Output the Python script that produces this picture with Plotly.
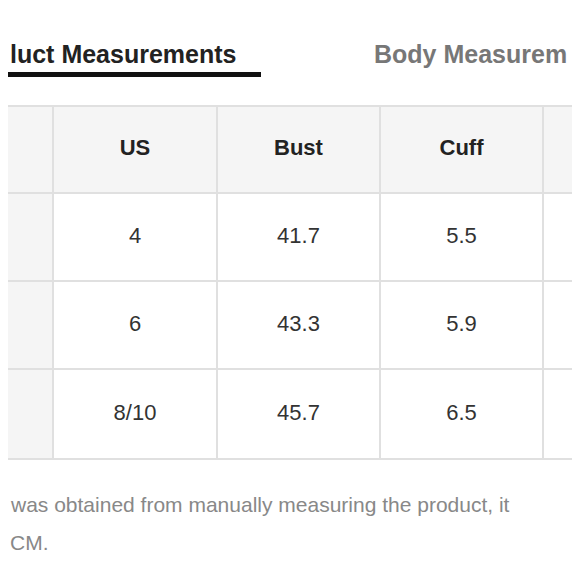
import plotly.graph_objects as go

header = ["", "US", "Bust", "Cuff", ""]
col_us = ["4", "6", "8/10"]
col_bust = ["41.7", "43.3", "45.7"]
col_cuff = ["5.5", "5.9", "6.5"]
rows = [[""] + [col_us[i], col_bust[i], col_cuff[i]] + [""] for i in range(3)]

W = H = 580
FONT = "Liberation Sans, Arial, sans-serif"
col_edges = [-5, 45, 209, 372, 535, 600]
row_edges = [98, 185, 273, 361, 451]

fig = go.Figure()

# cell backgrounds and borders
for r in range(len(row_edges) - 1):
    for c in range(len(col_edges) - 1):
        gray = r == 0 or c == 0
        fig.add_shape(type="rect", x0=col_edges[c], x1=col_edges[c + 1],
                      y0=row_edges[r], y1=row_edges[r + 1],
                      fillcolor="#f5f5f5" if gray else "white",
                      line=dict(color="#e0e0e0", width=2), layer="below")

# cell texts
xs, ys, ts = [], [], []
for c, h in enumerate(header):
    xs.append((col_edges[c] + col_edges[c + 1]) / 2)
    ys.append((row_edges[0] + row_edges[1]) / 2)
    ts.append("<b>%s</b>" % h if h else "")
fig.add_trace(go.Scatter(x=xs, y=ys, text=ts, mode="text", hoverinfo="skip",
                         textfont=dict(family=FONT, size=22, color="#222")))
xs, ys, ts = [], [], []
for r, row in enumerate(rows):
    for c, v in enumerate(row):
        xs.append((col_edges[c] + col_edges[c + 1]) / 2)
        ys.append((row_edges[r + 1] + row_edges[r + 2]) / 2)
        ts.append(v)
fig.add_trace(go.Scatter(x=xs, y=ys, text=ts, mode="text", hoverinfo="skip",
                         textfont=dict(family=FONT, size=22, color="#333")))

# tabs
fig.add_annotation(x=0, y=46, text="<b>luct Measurements</b>", showarrow=False,
                   xanchor="left", yanchor="middle",
                   font=dict(family=FONT, size=25, color="#222"))
fig.add_annotation(x=364, y=46, text="<b>Body Measurem</b>", showarrow=False,
                   xanchor="left", yanchor="middle",
                   font=dict(family=FONT, size=25, color="#777"))
fig.add_shape(type="rect", x0=-5, x1=253, y0=64, y1=69,
              fillcolor="#111", line_width=0)

# footer
fig.add_annotation(x=0, y=496, text="was obtained from manually measuring the product, it",
                   showarrow=False, xanchor="left", yanchor="middle",
                   font=dict(family=FONT, size=21, color="#888"))
fig.add_annotation(x=0, y=534, text="CM.", showarrow=False,
                   xanchor="left", yanchor="middle",
                   font=dict(family=FONT, size=21, color="#888"))

fig.update_xaxes(range=[0, W], visible=False, fixedrange=True)
fig.update_yaxes(range=[H, 0], visible=False, fixedrange=True)
fig.update_layout(width=W, height=H, margin=dict(l=0, r=0, t=0, b=0),
                  paper_bgcolor="white", plot_bgcolor="white", showlegend=False)
fig.write_html("out.html")
